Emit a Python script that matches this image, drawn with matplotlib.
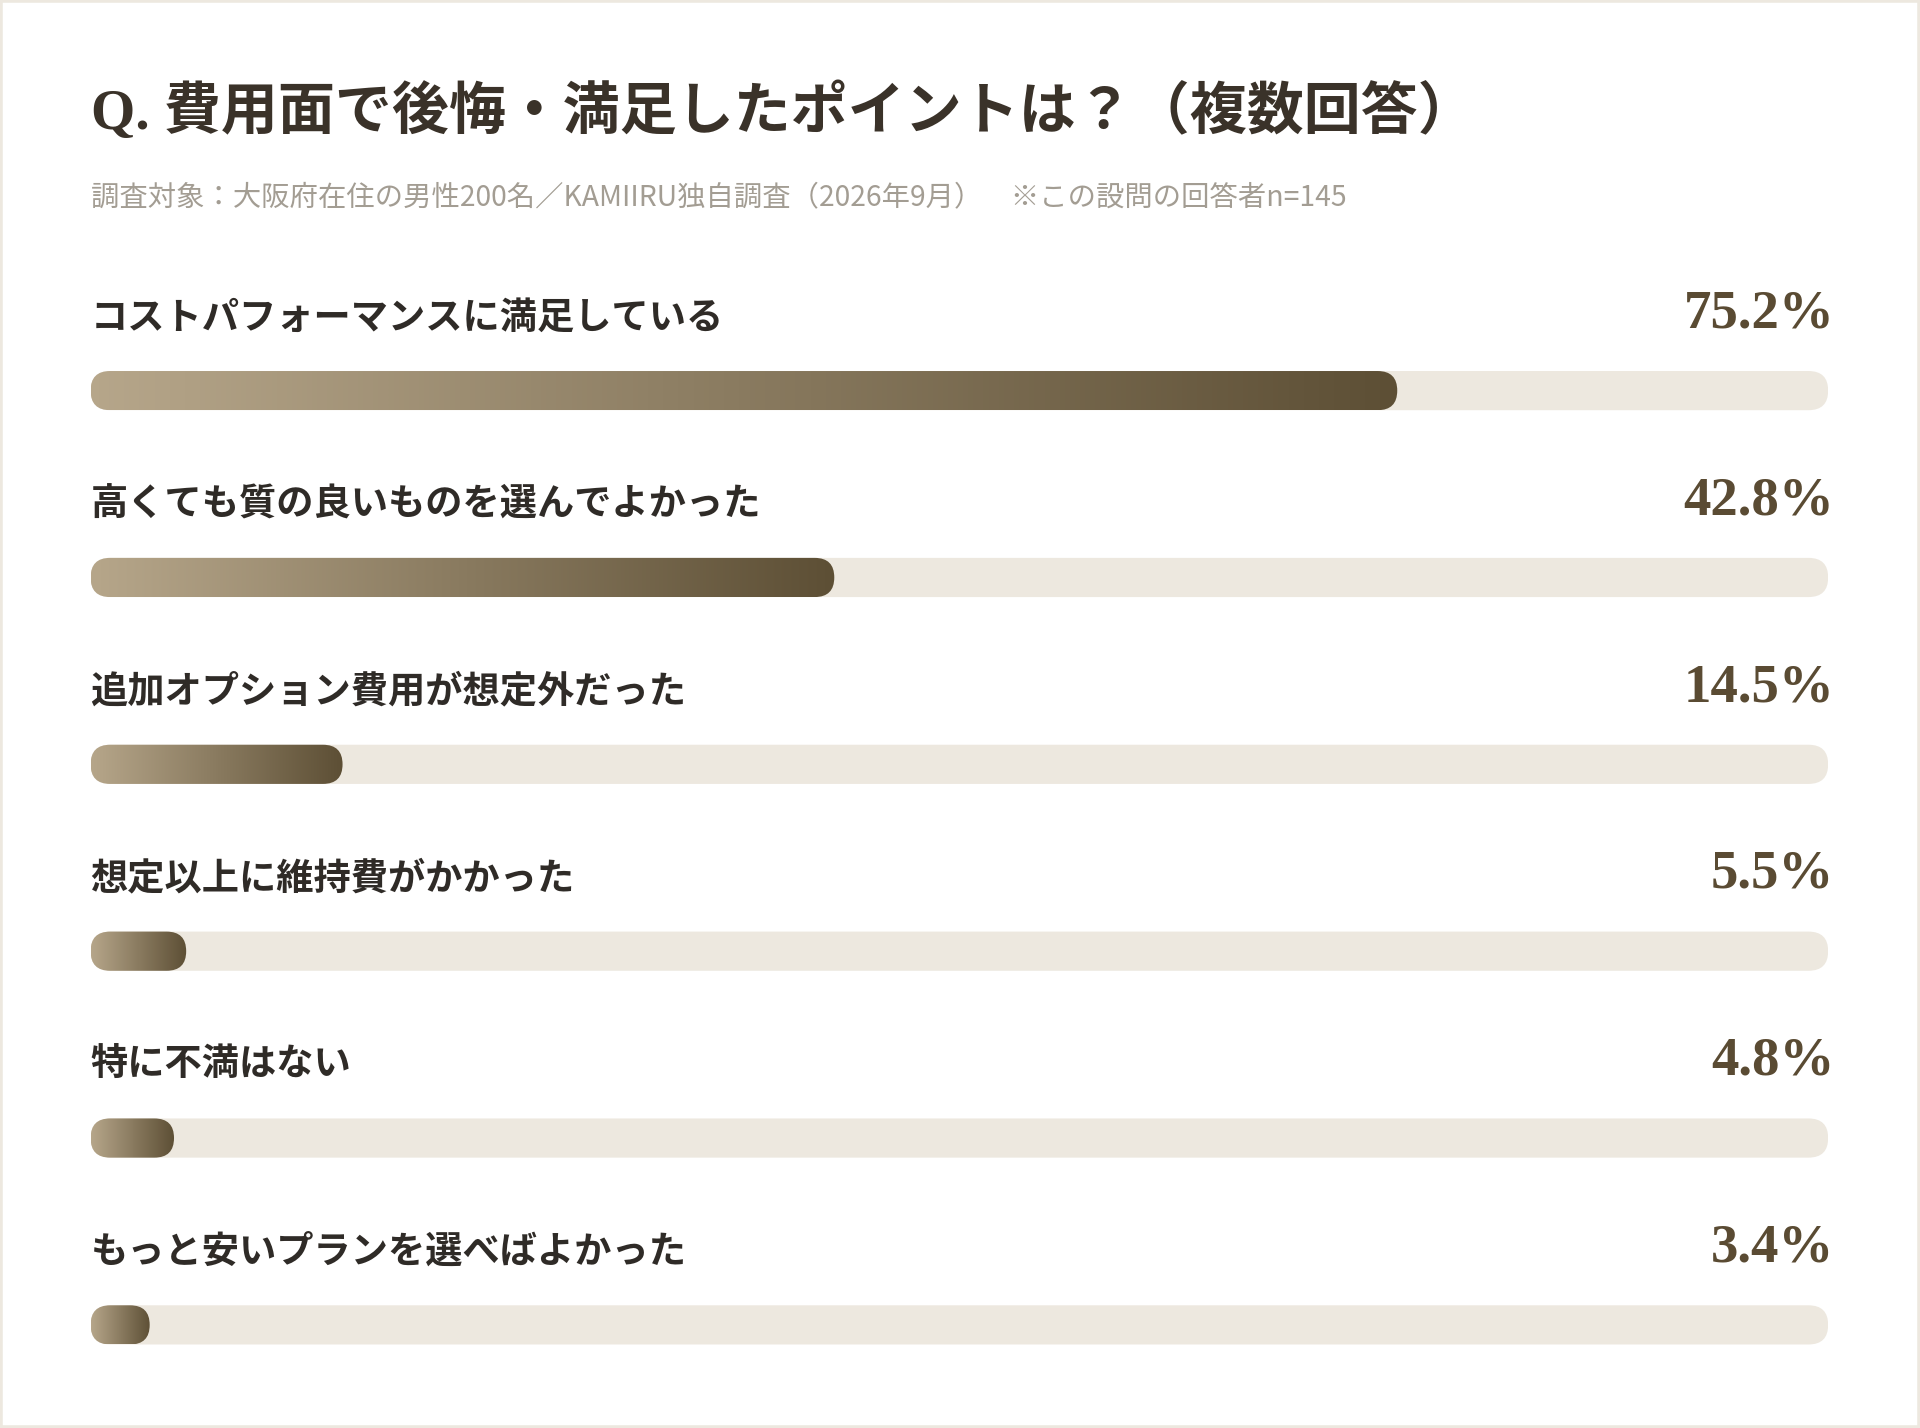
import matplotlib
matplotlib.use("Agg")
import matplotlib.pyplot as plt
import numpy as np
from matplotlib.colors import LinearSegmentedColormap
from matplotlib.patches import FancyBboxPatch, Rectangle

# ── data ──────────────────────────────────────────────────────────────────────
categories = [
    "コストパフォーマンスに満足している",
    "高くても質の良いものを選んでよかった",
    "追加オプション費用が想定外だった",
    "想定以上に維持費がかかった",
    "特に不満はない",
    "もっと安いプランを選べばよかった",
]
values = [75.2, 42.8, 14.5, 5.5, 4.8, 3.4]

title = "Q. 費用面で後悔・満足したポイントは？（複数回答）"
subtitle = ("調査対象：大阪府在住の男性200名／KAMIIRU独自調査（2026年9月）"
            "　※この設問の回答者n=145")

# ── style ─────────────────────────────────────────────────────────────────────
JP = "Noto Sans CJK JP"
SERIF = "Liberation Serif"
TRACK = "#ede8df"
BAR_LIGHT = "#b6a68a"
BAR_DARK = "#5d4f35"
TITLE_C = "#3a3229"
LABEL_C = "#2f2b27"
SUB_C = "#a39d93"
PCT_C = "#5a4b33"

W, H = 1920, 1428
S = W / 1568          # layout measured on a 1568 px wide copy

track_l, track_r = 74 * S, 1493 * S
row0, row_step = 319 * S, 152.6 * S
bar_h = 32 * S
label_dy = -59 * S

fig = plt.figure(figsize=(W / 100, H / 100), dpi=100)
fig.patch.set_facecolor("white")
fig.patches.append(Rectangle((0, 0), 1, 1, transform=fig.transFigure,
                             fill=False, edgecolor=TRACK, lw=4))

ax = fig.add_axes([track_l / W, 0, (track_r - track_l) / W, 1])
ax.axis("off")

xpp = 100 / (track_r - track_l)     # x data units per pixel
aspect = 1 / xpp
rad = bar_h / 2 * xpp
cmap = LinearSegmentedColormap.from_list("bar", [BAR_LIGHT, BAR_DARK])
grad = np.linspace(0, 1, 256).reshape(1, -1)

for i, (cat, val) in enumerate(zip(categories, values)):
    yc = row0 + i * row_step
    y0 = yc - bar_h / 2

    track = FancyBboxPatch((0, y0), 100, bar_h,
                           boxstyle=f"round,pad=0,rounding_size={rad}",
                           mutation_aspect=aspect, facecolor=TRACK,
                           edgecolor="none", zorder=1)
    ax.add_patch(track)

    clip = FancyBboxPatch((0, y0), val, bar_h,
                          boxstyle=f"round,pad=0,rounding_size={rad}",
                          mutation_aspect=aspect, facecolor="none",
                          edgecolor="none", zorder=2)
    ax.add_patch(clip)
    im = ax.imshow(grad, cmap=cmap, extent=[0, val, y0 + bar_h, y0],
                   aspect="auto", interpolation="bilinear", zorder=2)
    im.set_clip_path(clip)

    ax.text(0, yc + label_dy, cat, fontsize=26.8, fontweight="bold",
            family=[JP], color=LABEL_C, ha="left", va="center")
    ax.text(100 + 5 * S * xpp, yc + label_dy - 4, f"{val:.1f}%",
            fontsize=39.5, fontweight="bold", family=[SERIF], color=PCT_C,
            ha="right", va="center")

ax.text(0, 91 * S, title, fontsize=41, fontweight="bold",
        family=[SERIF, JP], color=TITLE_C, ha="left", va="center")
ax.text(0, 161 * S, subtitle, fontsize=20.4, family=[JP], color=SUB_C,
        ha="left", va="center")

ax.set_xlim(0, 100)
ax.set_ylim(H, 0)

fig.savefig("out.png", dpi=100, facecolor="white")
